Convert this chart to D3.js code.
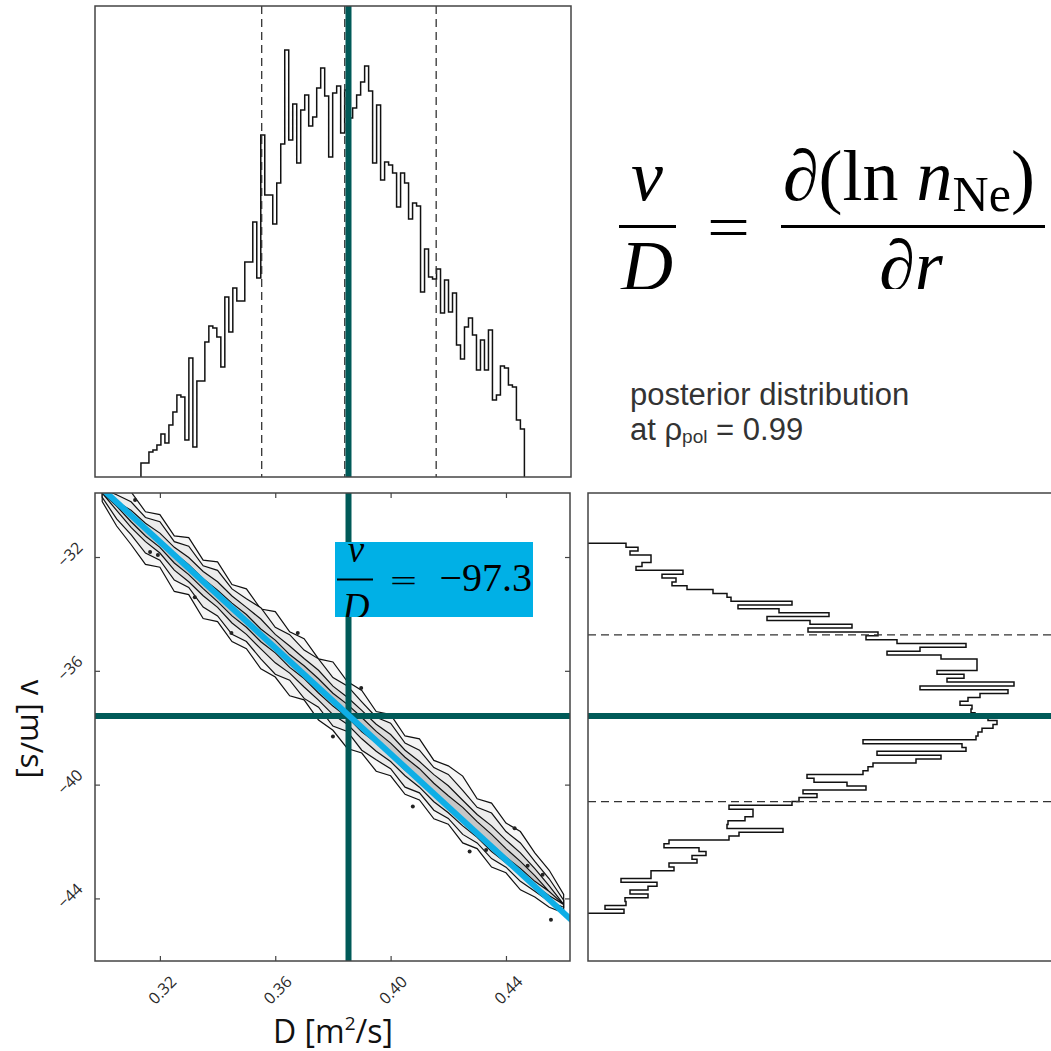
<!DOCTYPE html>
<html>
<head>
	<title>Posterior v / D</title>
	<meta charset="utf-8">
	<script src="https://d3js.org/d3.v7.min.js"></script>
	<style>
		body { margin: 0; background: #fff; }
		.frame { fill: none; stroke: #444; stroke-width: 1.5; }
		.hist { fill: none; stroke: #111; stroke-width: 1.5; }
		.dash { stroke: #333; stroke-width: 1.3; stroke-dasharray: 8,5; }
		.best { stroke: #005a58; stroke-width: 6; }
		.tick line { stroke: #444; stroke-width: 1.2; }
		.tick text { font-family: "Open Sans"; font-size: 16px; fill: #2a2a2a; }
		.math { font-family: "Liberation Serif"; fill: #000; }
		.note { font-family: "Liberation Sans"; fill: #333; }
		.axis-label { font-family: "Open Sans"; fill: #111; }
	</style>
</head>
<body>
	<div id="chartDiv"></div>
	<script>

		// axis ranges and ticks
		const dDomain = [0.2975, 0.4622];
		const vDomain = [-46.2, -29.75];
		const xTicks = [0.32, 0.36, 0.40, 0.44];
		const yTicks = [-32, -36, -40, -44];

		// best estimate and quantiles
		const dBest = 0.3854;
		const vBest = -37.59;
		const dQuantiles = [0.3553, 0.3841, 0.4158];
		const vQuantiles = [-34.74, -37.53, -40.6];

		// marginal histogram of D (counts per bin)
		const dHistStart = 0.31343;
		const dHistBin = 0.001385;
		const dHistCounts = [14,14,25,27,32,43,34,52,65,82,80,37,119,30,96,96,135,151,149,140,
			110,180,145,189,176,176,215,215,255,199,342,282,282,253,294,333,427,337,373,314,
			367,382,351,360,389,409,381,320,384,391,344,387,359,369,382,395,411,386,314,372,
			297,315,312,304,270,304,294,258,274,271,185,228,200,198,208,164,197,165,184,132,
			118,150,159,142,107,137,107,147,77,82,111,109,92,90,57,48];

		// marginal histogram of v (counts per bin, from top down)
		const vHistTop = -31.52;
		const vHistBin = 0.1354;
		const vHistCounts = [38,50,42,63,63,54,48,95,74,88,84,99,125,139,143,204,150,191,241,179,
			222,264,220,290,278,309,378,332,299,353,389,389,389,349,376,359,426,332,420,392,
			380,372,384,383,387,400,409,405,394,390,388,275,374,378,289,353,328,285,280,275,
			219,226,259,278,215,229,211,204,141,165,165,157,140,139,195,151,141,81,76,111,
			118,104,109,81,86,63,63,33,69,60,42,60,37,38,17,36];

		// joint posterior: ridge centre and contour half-widths (in m/s)
		const ridgeD = [0.300,0.305,0.310,0.315,0.320,0.325,0.330,0.335,0.340,0.345,0.350,
			0.355,0.360,0.365,0.370,0.375,0.380,0.385,0.390,0.395,0.400,0.405,0.410,0.415,
			0.420,0.425,0.430,0.435,0.440,0.445,0.450,0.455,0.460];
		const ridgeV = [-29.75,-30.21,-30.66,-31.11,-31.56,-32.01,-32.47,-32.91,-33.37,-33.82,-34.27,
			-34.73,-35.17,-35.63,-36.07,-36.53,-36.99,-37.43,-37.89,-38.33,-38.79,-39.24,-39.69,-40.15,
			-40.59,-41.05,-41.50,-41.95,-42.40,-42.85,-43.30,-43.76,-44.21];
		const outerUp = [0.3,0.6,0.95,0.7,1.05,0.75,1.15,0.8,1.2,0.85,1.15,0.9,1.25,1.0,1.2,0.95,1.3,
			1.05,1.2,0.9,1.25,0.95,1.3,1.0,1.25,1.35,1.0,1.3,1.05,1.2,0.9,0.75,0.35];
		const outerDn = [0.3,0.7,0.9,1.15,0.8,1.2,0.85,1.25,0.9,1.15,0.95,1.2,1.05,1.25,0.95,1.2,1.1,
			1.3,1.0,1.2,0.9,1.1,0.85,1.05,0.8,1.0,0.75,0.95,0.7,0.85,0.65,0.55,0.3];
		const midUp = [0.15,0.4,0.6,0.5,0.8,0.55,0.85,0.6,0.9,0.7,0.8,0.95,0.7,0.9,0.8,0.95,0.75,
			0.9,0.8,0.7,0.95,0.7,0.9,0.75,0.95,0.85,0.7,0.95,0.75,0.8,0.6,0.45,0.15];
		const midDn = [0.15,0.45,0.55,0.75,0.55,0.8,0.6,0.85,0.7,0.9,0.7,0.85,0.95,0.7,0.9,0.75,0.95,
			0.7,0.9,0.8,0.65,0.85,0.6,0.75,0.6,0.7,0.55,0.65,0.5,0.55,0.45,0.35,0.1];
		const coreUp = [0,0.15,0.3,0.3,0.4,0.35,0.45,0.4,0.5,0.45,0.5,0.55,0.45,0.5,0.5,0.55,0.45,
			0.5,0.5,0.45,0.55,0.45,0.5,0.5,0.55,0.5,0.45,0.5,0.45,0.45,0.35,0.2,0];
		const coreDn = [0,0.15,0.3,0.35,0.3,0.45,0.4,0.45,0.4,0.5,0.45,0.5,0.55,0.45,0.5,0.5,0.55,
			0.45,0.5,0.5,0.4,0.45,0.4,0.45,0.4,0.4,0.35,0.4,0.35,0.3,0.25,0.15,0];
		const innerUp = [0,0,0.1,0.1,0.15,0.15,0.2,0.15,0.2,0.2,0.25,0.2,0.25,0.2,0.25,0.25,0.2,
			0.25,0.25,0.2,0.25,0.2,0.25,0.2,0.2,0.25,0.2,0.2,0.15,0.15,0.1,0,0];
		const innerDn = [0,0,0.1,0.15,0.1,0.2,0.15,0.2,0.2,0.25,0.2,0.25,0.2,0.25,0.2,0.25,0.25,
			0.2,0.25,0.2,0.2,0.25,0.2,0.2,0.2,0.15,0.2,0.15,0.15,0.1,0.1,0,0];

		// small isolated contour islands
		const islandD = [0.3055,0.3114,0.3166,0.3193,0.3321,0.3448,0.3678,0.3898,0.3800,0.4077,0.4274,0.4331,0.4475,0.4527,0.4556,0.4430];
		const islandV = [-30.17,-30.0,-31.82,-31.93,-33.41,-34.67,-34.67,-36.6,-38.31,-40.77,-42.35,-42.3,-42.85,-43.17,-44.75,-41.53];

		// fitted line v = (v/D) * D
		const fitD = [0.299, 0.463];
		const fitV = [-29.51, -44.79];
		const fitLabel = '\u221297.3';

		// panel boxes (pixels)
		const boxTop = { left: 95, right: 571, top: 6, bottom: 477 };
		const boxJoint = { left: 95, right: 570, top: 493, bottom: 961 };
		const boxSide = { left: 588, right: 1060, top: 493, bottom: 961 };

		const svg = d3.select('#chartDiv').append('svg')
			.attr('width', 1051)
			.attr('height', 1051);
		svg.append('rect').attr('width', 1051).attr('height', 1051).attr('fill', '#fff');
		const defs = svg.append('defs');

		const addClip = (id, b) => {
			defs.append('clipPath').attr('id', id).append('rect')
				.attr('x', b.left).attr('y', b.top)
				.attr('width', b.right - b.left).attr('height', b.bottom - b.top);
		};
		addClip('clipTop', boxTop);
		addClip('clipJoint', boxJoint);
		addClip('clipSide', boxSide);

		// scales
		const xScale = d3.scaleLinear().domain(dDomain).range([boxJoint.left, boxJoint.right]);
		const yScale = d3.scaleLinear().domain(vDomain).range([boxJoint.bottom, boxJoint.top]);
		const countY = d3.scaleLinear().domain([0, 471]).range([boxTop.bottom, boxTop.top]);
		const countX = d3.scaleLinear().domain([0, 472]).range([boxSide.left, boxSide.right]);

		//---- top: histogram of D
		const gTop = svg.append('g').attr('clip-path', 'url(#clipTop)');
		let topPath = `M${xScale(dHistStart)},${countY(0)}`;
		dHistCounts.forEach((c, i) => {
			topPath += `V${countY(c)}H${xScale(dHistStart + (i + 1) * dHistBin)}`;
		});
		topPath += `V${countY(0)}`;
		gTop.append('path').attr('class', 'hist').attr('d', topPath);

		gTop.selectAll('.qd').data(dQuantiles).enter().append('line')
			.attr('class', 'dash')
			.attr('x1', d => xScale(d)).attr('x2', d => xScale(d))
			.attr('y1', boxTop.top).attr('y2', boxTop.bottom);
		gTop.append('line').attr('class', 'best')
			.attr('x1', xScale(dBest)).attr('x2', xScale(dBest))
			.attr('y1', boxTop.top).attr('y2', boxTop.bottom);

		//---- joint panel
		const gJoint = svg.append('g').attr('clip-path', 'url(#clipJoint)');
		const band = d3.area()
			.x(d => xScale(d.D))
			.y0(d => yScale(d.lo))
			.y1(d => yScale(d.hi));

		const levels = [
			{ up: outerUp, dn: outerDn, fill: '#f6f6f6' },
			{ up: midUp, dn: midDn, fill: '#ececec' },
			{ up: coreUp, dn: coreDn, fill: '#dcdcdc' },
			{ up: innerUp, dn: innerDn, fill: '#c6c6c6' }
		];
		levels.forEach(lv => {
			const pts = ridgeD.map((D, i) => ({ D: D, hi: ridgeV[i] + lv.up[i], lo: ridgeV[i] - lv.dn[i] }));
			gJoint.append('path')
				.attr('d', band(pts))
				.attr('fill', lv.fill)
				.attr('stroke', '#111')
				.attr('stroke-width', 1.2);
		});

		gJoint.selectAll('.island').data(islandD).enter().append('circle')
			.attr('class', 'island')
			.attr('cx', d => xScale(d))
			.attr('cy', (d, i) => yScale(islandV[i]))
			.attr('r', 2)
			.attr('fill', '#222');

		gJoint.append('line').attr('class', 'best')
			.attr('x1', xScale(dBest)).attr('x2', xScale(dBest))
			.attr('y1', boxJoint.top).attr('y2', boxJoint.bottom);
		gJoint.append('line').attr('class', 'best')
			.attr('x1', boxJoint.left).attr('x2', boxJoint.right)
			.attr('y1', yScale(vBest)).attr('y2', yScale(vBest));

		const fitLine = d3.line().x(d => xScale(d[0])).y(d => yScale(d[1]));
		gJoint.append('path')
			.attr('d', fitLine(fitD.map((D, i) => [D, fitV[i]])))
			.attr('stroke', '#0eaee6')
			.attr('stroke-width', 6)
			.attr('fill', 'none');

		// label box v/D = -97.3
		defs.append('clipPath').attr('id', 'clipBox').append('rect')
			.attr('x', 335).attr('y', 542).attr('width', 198).attr('height', 75);
		const gBox = svg.append('g').attr('clip-path', 'url(#clipBox)');
		gBox.append('rect').attr('x', 335).attr('y', 542).attr('width', 198).attr('height', 75)
			.attr('fill', '#00b0e6');
		gBox.append('text').attr('class', 'math').attr('x', 356).attr('y', 562)
			.attr('text-anchor', 'middle').style('font-size', '37px').style('font-style', 'italic').text('v');
		gBox.append('line').attr('x1', 337).attr('x2', 373).attr('y1', 579.5).attr('y2', 579.5)
			.attr('stroke', '#000').attr('stroke-width', 1.8);
		gBox.append('text').attr('class', 'math').attr('x', 356).attr('y', 619)
			.attr('text-anchor', 'middle').style('font-size', '37px').style('font-style', 'italic').text('D');
		gBox.append('text').attr('class', 'math').attr('x', 390).attr('y', 591)
			.attr('textLength', 27).attr('lengthAdjust', 'spacingAndGlyphs')
			.style('font-size', '30px').text('=');
		gBox.append('text').attr('class', 'math').attr('x', 532).attr('y', 591)
			.attr('text-anchor', 'end')
			.style('font-size', '40px').text(fitLabel);

		//---- side: histogram of v
		const gSide = svg.append('g').attr('clip-path', 'url(#clipSide)');
		let sidePath = `M${countX(0)},${yScale(vHistTop)}`;
		vHistCounts.forEach((c, i) => {
			sidePath += `H${countX(c)}V${yScale(vHistTop - (i + 1) * vHistBin)}`;
		});
		sidePath += `H${countX(0)}`;
		gSide.append('path').attr('class', 'hist').attr('d', sidePath);

		gSide.selectAll('.qv').data(vQuantiles).enter().append('line')
			.attr('class', 'dash')
			.attr('x1', boxSide.left).attr('x2', boxSide.right)
			.attr('y1', d => yScale(d)).attr('y2', d => yScale(d));
		gSide.append('line').attr('class', 'best')
			.attr('x1', boxSide.left).attr('x2', boxSide.right)
			.attr('y1', yScale(vBest)).attr('y2', yScale(vBest));

		//---- axes of the joint panel
		const xAxisG = svg.append('g').attr('transform', `translate(0,${boxJoint.bottom})`)
			.call(d3.axisBottom(xScale).tickValues(xTicks).tickSize(-5).tickFormat(d3.format('.2f')));
		xAxisG.select('.domain').remove();
		xAxisG.selectAll('.tick text')
			.attr('y', 0).attr('dy', '0.35em')
			.attr('text-anchor', 'middle')
			.attr('transform', 'translate(2,29) rotate(-45)');

		const xTopG = svg.append('g').attr('transform', `translate(0,${boxJoint.top})`)
			.call(d3.axisTop(xScale).tickValues(xTicks).tickSize(-5).tickFormat(''));
		xTopG.select('.domain').remove();

		const yAxisG = svg.append('g').attr('transform', `translate(${boxJoint.left},0)`)
			.call(d3.axisLeft(yScale).tickValues(yTicks).tickSize(-5).tickFormat(d3.format('d')));
		yAxisG.select('.domain').remove();
		yAxisG.selectAll('.tick text')
			.attr('x', 0).attr('dy', '0.35em')
			.attr('text-anchor', 'middle')
			.attr('transform', 'translate(-25,-3) rotate(-45)');

		const yRightG = svg.append('g').attr('transform', `translate(${boxJoint.right},0)`)
			.call(d3.axisRight(yScale).tickValues(yTicks).tickSize(-5).tickFormat(''));
		yRightG.select('.domain').remove();

		// frames
		[boxTop, boxJoint, boxSide].forEach(b => {
			svg.append('rect').attr('class', 'frame')
				.attr('x', b.left).attr('y', b.top)
				.attr('width', b.right - b.left).attr('height', b.bottom - b.top);
		});

		// axis labels
		const xLab = svg.append('text').attr('class', 'axis-label')
			.attr('x', 333).attr('y', 1043).attr('text-anchor', 'middle').style('font-size', '32px');
		xLab.append('tspan').text('D [m');
		xLab.append('tspan').attr('dy', -13).style('font-size', '19px').text('2');
		xLab.append('tspan').attr('dy', 13).text('/s]');

		svg.append('text').attr('class', 'axis-label')
			.attr('transform', 'translate(21,729) rotate(90)')
			.attr('text-anchor', 'middle').style('font-size', '31px')
			.text('v [m/s]');

		//---- formula top right
		defs.append('clipPath').attr('id', 'clipEq').append('rect')
			.attr('x', 600).attr('y', 130).attr('width', 451).attr('height', 159);
		const gEq = svg.append('g').attr('clip-path', 'url(#clipEq)');
		gEq.append('text').attr('class', 'math').attr('x', 647).attr('y', 200)
			.attr('text-anchor', 'middle').style('font-size', '72px').style('font-style', 'italic').text('v');
		gEq.append('line').attr('x1', 619).attr('x2', 676).attr('y1', 226.5).attr('y2', 226.5)
			.attr('stroke', '#000').attr('stroke-width', 3);
		gEq.append('text').attr('class', 'math').attr('x', 647).attr('y', 290)
			.attr('text-anchor', 'middle').style('font-size', '72px').style('font-style', 'italic').text('D');
		gEq.append('text').attr('class', 'math').attr('x', 707).attr('y', 247)
			.attr('textLength', 43).attr('lengthAdjust', 'spacingAndGlyphs')
			.style('font-size', '60px').text('=');

		const num = gEq.append('text').attr('class', 'math').attr('x', 783).attr('y', 200).style('font-size', '72px');
		num.append('tspan').text('\u2202(ln ');
		num.append('tspan').style('font-style', 'italic').text('n');
		num.append('tspan').attr('dy', 11).style('font-size', '50px').text('Ne');
		num.append('tspan').attr('dy', -11).text(')');
		gEq.append('line').attr('x1', 781).attr('x2', 1045).attr('y1', 226.5).attr('y2', 226.5)
			.attr('stroke', '#000').attr('stroke-width', 3);
		const den = gEq.append('text').attr('class', 'math').attr('x', 911).attr('y', 290)
			.attr('text-anchor', 'middle').style('font-size', '72px');
		den.append('tspan').text('\u2202');
		den.append('tspan').style('font-style', 'italic').text('r');

		// note
		svg.append('text').attr('class', 'note').attr('x', 630).attr('y', 405)
			.style('font-size', '31px').text('posterior distribution');
		const note2 = svg.append('text').attr('class', 'note').attr('x', 630).attr('y', 440)
			.style('font-size', '31px');
		note2.append('tspan').text('at \u03c1');
		note2.append('tspan').attr('dy', 3).style('font-size', '19px').text('pol');
		note2.append('tspan').attr('dy', -3).text(' = 0.99');

	</script>
</body>
</html>
